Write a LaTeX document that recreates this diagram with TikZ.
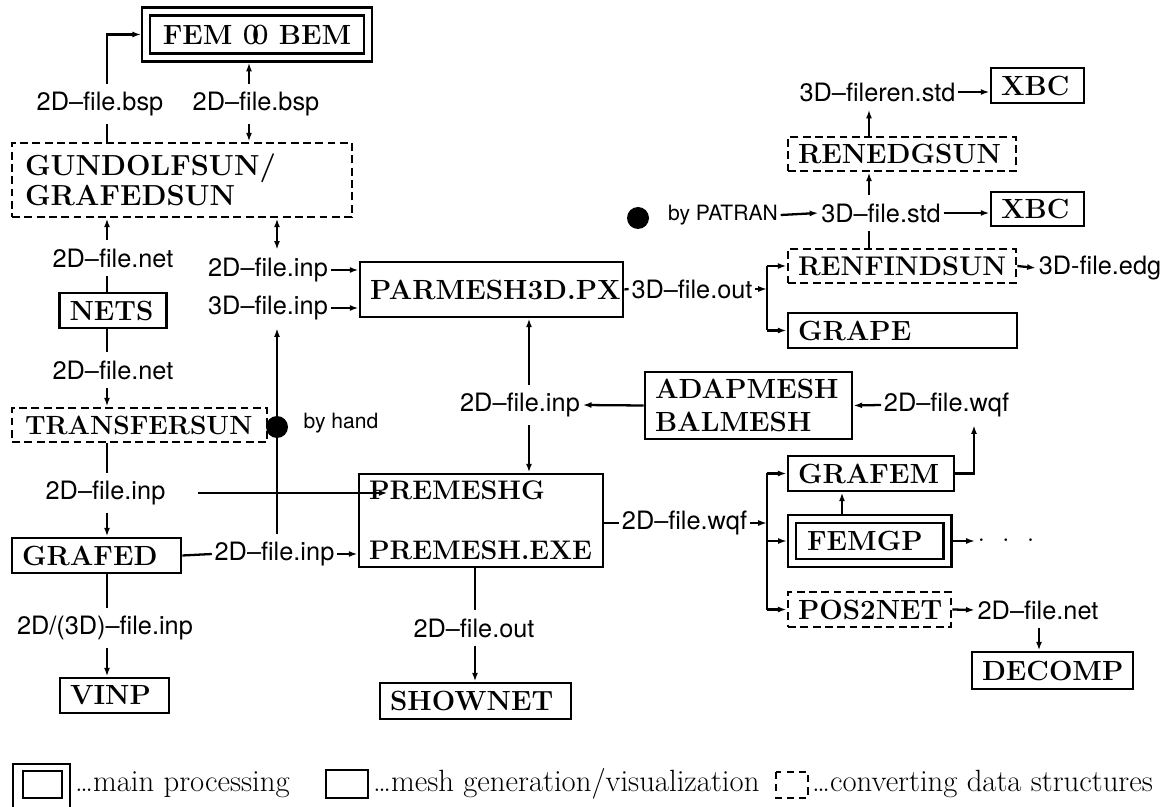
\documentclass[tikz,border=0pt]{standalone}
\usepackage{fontspec}
\usepackage{graphicx}
\usepackage{tikz}
\usetikzlibrary{positioning,arrows.meta,calc}
\newfontfamily\labelfont{TeX Gyre Heros}
\newcommand{\boxsize}{\fontsize{15.8}{18.5}\selectfont}
\newcommand{\coupling}{\scalebox{0.7}[1]{O}\kern-0.26em\scalebox{0.7}[1]{O}}

\begin{document}
\begin{tikzpicture}[x=0.02cm, y=-0.02cm, >={Latex[length=5pt,width=3.4pt]}, line width=1.3pt,
  meshbox/.style={draw, rectangle, line width=1.6pt, font=\boxsize\bfseries, align=left, inner xsep=0.2cm, inner ysep=0pt},
  convbox/.style={meshbox, dash pattern=on 4.5pt off 2.5pt},
  mainbox/.style={draw, rectangle, line width=1.3pt, double, double distance=3.2pt, outer sep=2.9pt, font=\boxsize\bfseries, align=left},
  file/.style={font=\Large\labelfont, inner xsep=1pt, inner ysep=4pt},
  remark/.style={font=\large\labelfont, inner sep=1pt},
  blob/.style={circle, fill, inner sep=0pt, minimum size=0.44cm},
  legend/.style={font=\fontsize{17.5}{21}\selectfont, anchor=base west, inner sep=0pt}]
  \useasboundingbox (0,0) rectangle (1167,807);
  % Boxes
  \node [mainbox, minimum width=4.43cm, minimum height=0.92cm] (fembem) at (257,34.5) {FEM \coupling{} BEM};
  \node [convbox, font=\fontsize{16.5}{17}\selectfont\bfseries, text width=6.28cm, inner xsep=0.26cm, minimum height=1.48cm] (gund) at (182,180) {GUNDOLFSUN/\\GRAFEDSUN};
  \node [meshbox, text width=1.74cm, minimum height=0.70cm] (nets) at (113,310.5) {NETS};
  \node [convbox, font=\fontsize{15}{18}\selectfont\bfseries, text width=4.58cm, inner xsep=0.26cm, minimum height=0.68cm] (transfer) at (139.5,425) {TRANSFERSUN};
  \node [meshbox, text width=2.98cm, minimum height=0.70cm] (grafed) at (96.5,555.5) {GRAFED};
  \node [meshbox, text width=1.78cm, minimum height=0.70cm] (vinp) at (114.5,695.5) {VINP};
  \node [meshbox, text width=4.86cm, minimum height=1.10cm] (parmesh) at (491.5,289.5) {PARMESH3D.PX};
  \node [meshbox, font=\fontsize{15.3}{18.5}\selectfont\bfseries, text width=4.48cm, minimum height=1.86cm] (premesh) at (481,520.5) {PREMESHG\\[15.5pt]PREMESH.EXE};
  \node [meshbox, text width=3.42cm, minimum height=0.72cm] (shownet) at (475.5,701) {SHOWNET};
  \node [meshbox, text width=3.74cm, minimum height=1.34cm] (adapmesh) at (748.5,405.5) {ADAPMESH\\BALMESH};
  \node [meshbox, text width=4.18cm, minimum height=0.70cm] (grape) at (902.5,330.5) {GRAPE};
  \node [convbox, text width=4.16cm, minimum height=0.68cm] (renedg) at (902,154) {RENEDGSUN};
  \node [convbox, font=\fontsize{15.4}{18}\selectfont\bfseries, text width=4.16cm, minimum height=0.68cm] (renfind) at (902,266) {RENFINDSUN};
  \node [meshbox, text width=1.46cm, minimum height=0.70cm] (xbctop) at (1037.5,85.5) {XBC};
  \node [meshbox, text width=1.46cm, minimum height=0.68cm] (xbcstd) at (1037.5,209) {XBC};
  \node [meshbox, text width=2.92cm, minimum height=0.70cm] (grafem) at (871,473.5) {GRAFEM};
  \node [mainbox, text width=2.51cm, inner xsep=0.3cm, minimum height=0.88cm] (femgp) at (869.75,541) {FEMGP};
  \node [convbox, text width=2.86cm, minimum height=0.70cm] (pos2net) at (869.5,609.5) {POS2NET};
  \node [meshbox, text width=2.82cm, minimum height=0.74cm] (decomp) at (1052.5,670.5) {DECOMP};
  % File labels
  \node [file] (bspleft) at (100,104) {2D–file.bsp};
  \node [file] (bspright) at (256,104) {2D–file.bsp};
  \node [file] (netup) at (113,258) {2D–file.net};
  \node [file] (netdown) at (113,370) {2D–file.net};
  \node [file] (inptrans) at (105.5,493) {2D–file.inp};
  \node [file] (inpgrafed) at (274.5,554) {2D–file.inp};
  \node [file] (inpvinp) at (105,628) {2D/(3D)–file.inp};
  \node [file] (inppar) at (268,270) {2D–file.inp};
  \node [file] (inppar3d) at (268,308) {3D–file.inp};
  \node [file] (inpadap) at (520,405) {2D–file.inp};
  \node [file] (outpre) at (474,628) {2D–file.out};
  \node [file] (wqfpre) at (684.5,523) {2D–file.wqf};
  \node [file] (wqfgrafem) at (946.5,405) {2D–file.wqf};
  \node [file] (netpos) at (1038,610) {2D–file.net};
  \node [file] (outpar) at (692,289) {3D–file.out};
  \node [file] (stdpat) at (881,213) {3D–file.std};
  \node [file] (stdren) at (877.5,92) {3D–fileren.std};
  \node [file] (edg) at (1100,268) {3D-file.edg};
  \node [file] (more) at (1006,541) {$\cdot\hspace{2.4mm}\cdot\hspace{2.4mm}\cdot$};
  \node [remark] (patran) at (723,215) {by PATRAN};
  \node [remark] (hand) at (341,423) {by hand};
  \node [blob] (patdot) at (638,218) {};
  \node [blob] (handdot) at (277,427) {};
  % Columns
  \coordinate (colL) at (107,0);
  \coordinate (colF) at (249,0);
  \coordinate (colH) at (277,0);
  \coordinate (colM) at (529,0);
  \coordinate (colP) at (475,0);
  \coordinate (colB) at (767,0);
  \coordinate (colG) at (842,0);
  \coordinate (colW) at (974,0);
  \coordinate (colR) at (869,0);
  \coordinate (colD) at (1039,0);
  % Arrows, left part
  \draw (gund.north -| colL) -- (bspleft.south -| colL);
  \draw [->] (bspleft.north -| colL) |- (fembem.west);
  \draw [->] (bspright.north -| colF) -- (fembem.south -| colF);
  \draw [->] (bspright.south -| colF) -- (gund.north -| colF);
  \draw [->] (netup.north -| colL) -- (gund.south -| colL);
  \draw (nets.north -| colL) -- (netup.south -| colL);
  \draw (nets.south -| colL) -- (netdown.north -| colL);
  \draw [->] (netdown.south -| colL) -- (transfer.north -| colL);
  \draw [<->] (inppar.north -| colH) -- (gund.south -| colH);
  \draw [->] (inppar.east) -- (inppar.east -| parmesh.west);
  \draw [->] (inppar3d.east) -- (inppar3d.east -| parmesh.west);
  \draw [->] (inpgrafed.north -| colH) -- (inppar3d.south -| colH);
  \draw (transfer.south -| colL) -- (inptrans.north -| colL);
  \draw [->] (inptrans.south -| colL) -- (grafed.north -| colL);
  \draw [->] ([xshift=0.6cm]inptrans.east) -- ([xshift=0.6cm]inptrans.east -| premesh.west);
  \draw (grafed.east) -- (inpgrafed.west);
  \draw [->] (inpgrafed.east) -- (inpgrafed.east -| premesh.west);
  \draw (grafed.south -| colL) -- (inpvinp.north -| colL);
  \draw [->] (inpvinp.south -| colL) -- (vinp.north -| colL);
  % Arrows, middle part
  \draw [->] (inpadap.north -| colM) -- (parmesh.south -| colM);
  \draw [->] (inpadap.south -| colM) -- (premesh.north -| colM);
  \draw [->] (adapmesh.west) -- (inpadap.east);
  \draw (premesh.south -| colP) -- (outpre.north -| colP);
  \draw [->] (outpre.south -| colP) -- (shownet.north -| colP);
  \draw (wqfpre.west -| premesh.east) -- (wqfpre.west);
  \draw [->] (wqfpre.east) -- (wqfpre.east -| colB);
  \draw (grafem.west -| colB) -- (pos2net.west -| colB);
  \draw [->] (grafem.west -| colB) -- (grafem.west);
  \draw [->] (femgp.west -| colB) -- (femgp.west);
  \draw [->] (pos2net.west -| colB) -- (pos2net.west);
  \draw [->] (femgp.north -| colG) -- (grafem.south -| colG);
  \draw [->] (grafem.east) -| (wqfgrafem.south -| colW);
  \draw [->] (wqfgrafem.west) -- (adapmesh.east);
  \draw [->] (femgp.east) -- (more.west);
  \draw [->] (pos2net.east) -- (netpos.west);
  \draw [->] (netpos.south -| colD) -- (decomp.north -| colD);
  % Arrows, right part
  \draw (parmesh.east) -- (outpar.west);
  \draw [->] (outpar.east) -- (outpar.east -| colB);
  \draw (renfind.west -| colB) -- (grape.west -| colB);
  \draw [->] (renfind.west -| colB) -- (renfind.west);
  \draw [->] (grape.west -| colB) -- (grape.west);
  \draw [->] (renfind.east) -- (edg.west);
  \draw (renfind.north -| colR) -- (stdpat.south -| colR);
  \draw [->] (stdpat.north -| colR) -- (renedg.south -| colR);
  \draw [->] (renedg.north -| colR) -- (stdren.south -| colR);
  \draw [->] (stdren.east) -- (stdren.east -| xbctop.west);
  \draw [->] (stdpat.east) -- (stdpat.east -| xbcstd.west);
  \draw [->] (patran.east) -- (stdpat.west);
  % Legend
  \draw [line width=1.7pt] (13,764) rectangle (70,815);
  \draw [line width=1.4pt] (23,771) rectangle (62,798);
  \node [legend] (legmain) at (74,791) {\ldots main processing};
  \draw [line width=1.6pt] (326,770) rectangle (368,798);
  \node [legend] (legmesh) at (372,791) {\ldots mesh generation/visualization};
  \draw [line width=1.4pt, dash pattern=on 4pt off 3pt] (776,772) rectangle (808,798);
  \node [legend] (legconv) at (811,791) {\ldots converting data structures};
\end{tikzpicture}
\end{document}
